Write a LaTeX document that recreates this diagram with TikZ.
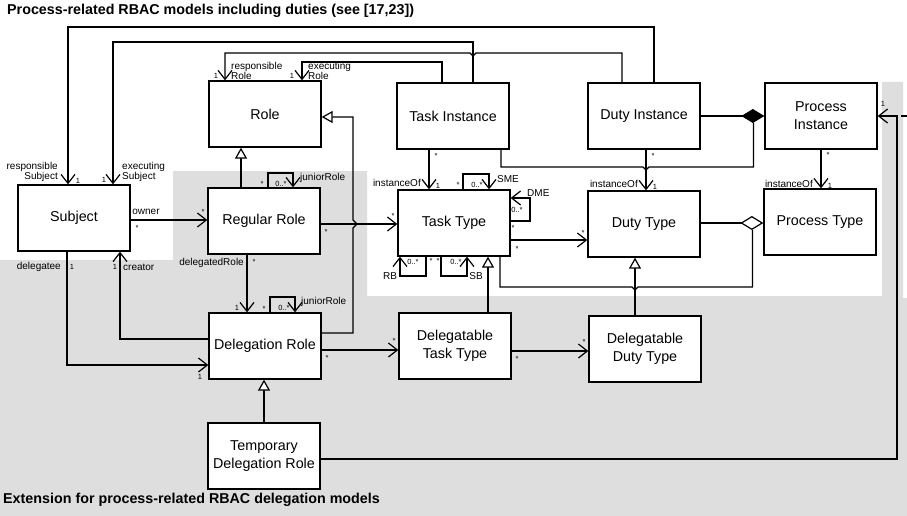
\documentclass[tikz,border=0pt]{standalone}
\usepackage{fontspec}
\setmainfont{Liberation Sans}
\usetikzlibrary{arrows.meta}
\definecolor{bggray}{RGB}{222,222,222}
\begin{document}
\begin{tikzpicture}[x=1pt,y=-1pt,
  box/.style={draw, fill=white, line width=1.3pt, minimum width=112pt, minimum height=66pt, inner sep=1pt, align=center, font=\fontsize{14.3}{18}\selectfont},
  conn/.style={line width=1.2pt},
  nav/.style={conn, -{Straight Barb[length=9pt,width=14pt]}},
  gen/.style={conn, -{Triangle[open,fill=white,length=11pt,width=12pt]}},
  comp/.style={conn, -{Diamond[fill=black,length=23pt,width=14pt]}},
  agg/.style={conn, -{Diamond[open,fill=white,length=23pt,width=14pt]}},
  lbl/.style={font=\fontsize{10}{10}\selectfont, inner sep=0pt},
  mult/.style={font=\fontsize{7.5}{7.5}\selectfont, inner sep=0pt},
  ttl/.style={font=\bfseries\fontsize{14.3}{16}\selectfont, anchor=west, inner sep=0pt},
]
\useasboundingbox (0,0) rectangle (907,516);
\fill[white] (0,0) rectangle (907,516);
\fill[bggray] (0,516) -- (0,260) -- (173,260) -- (173,171) -- (367,171) -- (367,296) -- (882,296) -- (882,82) -- (903,82) -- (903,298) -- (907,298) -- (907,516) -- cycle;

% titles
\node[ttl] (title1) at (7,11) {Process-related RBAC models including duties (see [17,23])};
\node[ttl] (title2) at (3,500) {Extension for process-related RBAC delegation models};

% boxes
\node[box] (role) at (265,114) {Role};
\node[box] (taskinst) at (453,116) {Task Instance};
\node[box] (dutyinst) at (644,116) {Duty Instance};
\node[box] (procinst) at (821,116) {Process\\Instance};
\node[box] (subject) at (74,218) {Subject};
\node[box] (regrole) at (264,221) {Regular Role};
\node[box] (tasktype) at (454,223) {Task Type};
\node[box] (dutytype) at (644,224) {Duty Type};
\node[box] (proctype) at (820,222) {Process Type};
\node[box] (delrole) at (265,346) {Delegation Role};
\node[box] (deltask) at (455,346) {Delegatable\\Task Type};
\node[box] (delduty) at (645,349) {Delegatable\\Duty Type};
\node[box] (temprole) at (264,456) {Temporary\\Delegation Role};

% top long connectors
\draw[nav] (654,0 |- dutyinst.north) -- (654,27) -- (68,27) -- (68,0 |- subject.north);
\draw[nav] (473,0 |- taskinst.north) -- (473,42) -- (113,42) -- (113,0 |- subject.north);
\draw[nav] (622,0 |- dutyinst.north) -- (622,53) -- (476,53) -- (473,56) -- (470,53) -- (225,53) -- (225,0 |- role.north);
\draw[nav] (442,0 |- taskinst.north) -- (442,62) -- (302,62) -- (302,0 |- role.north);

\node[mult] (m1) at (216,76) {1};
\node[lbl, align=left, anchor=south west] (t1) at (231,80) {responsible\\Role};
\node[mult] (m2) at (292,76) {1};
\node[lbl, align=left, anchor=south west] (t2) at (308,80) {executing\\Role};
\node[lbl, align=right, anchor=south east] (t3) at (58,182) {responsible\\Subject};
\node[mult] (m3) at (78,181) {1};
\node[mult] (m4) at (104,180) {1};
\node[lbl, align=left, anchor=south west] (t4) at (122,182) {executing\\Subject};

% composition / aggregation
\draw[comp] (dutyinst.east) -- (dutyinst.east -| procinst.west);
\draw[conn] (501,0 |- taskinst.south) -- (501,167) -- (643,167) -- (646,170) -- (649,167) -- (753.5,167) -- (753.5,123);
\draw[agg] (dutytype.east |- 0,223) -- (proctype.west |- 0,223);
\draw[conn] (500,0 |- tasktype.south) -- (500,287) -- (632,287) -- (635,290) -- (638,287) -- (752.5,287) -- (752.5,230);

% instanceOf
\draw[nav] (429,0 |- taskinst.south) -- (429,0 |- tasktype.north);
\node[mult] (m5) at (436,156) {*};
\node[lbl, anchor=east] (t5) at (421,183) {instanceOf};
\node[mult] (m6) at (438,186) {1};
\draw[nav] (646,0 |- dutyinst.south) -- (646,0 |- dutytype.north);
\node[mult] (m7) at (653,156) {*};
\node[lbl, anchor=east] (t6) at (638,184) {instanceOf};
\node[mult] (m8) at (655,187) {1};
\draw[nav] (821,0 |- procinst.south) -- (821,0 |- proctype.north);
\node[mult] (m9) at (828,155) {*};
\node[lbl, anchor=east] (t7) at (813,184) {instanceOf};
\node[mult] (m10) at (830,186) {1};

% subject relations
\draw[nav] (subject.east |- 0,220) -- (regrole.west |- 0,220);
\node[lbl] (t8) at (146,212) {owner};
\node[mult] (m11) at (137,228) {*};
\node[mult] (m12) at (203,212) {*};
\draw[nav] (67,0 |- subject.south) -- (67,365) -- (delrole.west |- 0,365);
\node[lbl, anchor=east] (t9) at (61,267) {delegatee};
\node[mult] (m13) at (72,267) {1};
\node[mult] (m14) at (200,377) {1};
\draw[nav] (delrole.west |- 0,339) -- (120,339) -- (120,0 |- subject.south);
\node[mult] (m15) at (115,267) {1};
\node[lbl, anchor=west] (t10) at (123,267) {creator};

% role hierarchy
\draw[gen] (241,0 |- regrole.north) -- (241,0 |- role.south);
\draw[gen] (264,0 |- temprole.north) -- (264,0 |- delrole.south);
\draw[gen] (delrole.east |- 0,333) -- (353,333) -- (353,228) -- (357,224) -- (353,220) -- (353,117) -- (role.east |- 0,117);
\draw[nav] (247,0 |- regrole.south) -- (247,0 |- delrole.north);
\node[lbl, anchor=east] (t11) at (244,263) {delegatedRole};
\node[mult] (m16) at (254,262) {*};
\node[mult] (m17) at (237,308) {1};

% juniorRole loops
\draw[nav] (268,0 |- regrole.north) -- (268,173) -- (293,173) -- (293,0 |- regrole.north);
\node[mult] (m18) at (262,184) {*};
\node[mult] (m19) at (281,184) {0..*};
\node[lbl, anchor=west] (t12) at (300,178) {juniorRole};
\draw[nav] (270,0 |- delrole.north) -- (270,297) -- (295,297) -- (295,0 |- delrole.north);
\node[mult] (m20) at (264,309) {*};
\node[mult] (m21) at (284,308) {0..*};
\node[lbl, anchor=west] (t13) at (301,302) {juniorRole};

% role -> task types
\draw[nav] (regrole.east |- 0,224) -- (tasktype.west |- 0,224);
\node[mult] (m22) at (326,232) {*};
\node[mult] (m23) at (393,216) {*};
\draw[nav] (delrole.east |- 0,350) -- (deltask.west |- 0,350);
\node[mult] (m24) at (327,358) {*};
\node[mult] (m25) at (394,341) {*};
\draw[nav] (deltask.east |- 0,351) -- (delduty.west |- 0,351);
\node[mult] (m26) at (517,359) {*};
\node[mult] (m27) at (584,342) {*};
\draw[nav] (tasktype.east |- 0,240) -- (dutytype.west |- 0,240);
\node[mult] (m28) at (517,249) {*};
\node[mult] (m29) at (583,233) {*};

% task type generalizations
\draw[gen] (488,0 |- deltask.north) -- (488,0 |- tasktype.south);
\draw[gen] (635,0 |- delduty.north) -- (635,0 |- dutytype.south);

% task type loops
\draw[nav] (463,0 |- tasktype.north) -- (463,174) -- (489,174) -- (489,0 |- tasktype.north);
\node[mult] (m30) at (458,185) {*};
\node[mult] (m31) at (477,185) {0..*};
\node[lbl, anchor=west] (t14) at (497,179) {SME};
\draw[nav] (tasktype.east |- 0,221) -- (530,221) -- (530,198) -- (tasktype.east |- 0,198);
\node[mult] (m32) at (517,210) {0..*};
\node[mult] (m33) at (513,228) {*};
\node[lbl, anchor=west] (t15) at (527,193) {DME};
\draw[nav] (426,0 |- tasktype.south) -- (426,276) -- (400,276) -- (400,0 |- tasktype.south);
\node[mult] (m34) at (413,262) {0..*};
\node[lbl] (t16) at (390,276) {RB};
\node[mult] (m35) at (431,261) {*};
\node[mult] (m36) at (438,261) {*};
\draw[nav] (441,0 |- tasktype.south) -- (441,276) -- (467,276) -- (467,0 |- tasktype.south);
\node[mult] (m37) at (456,262) {0..*};
\node[lbl] (t17) at (476,276) {SB};

% temporary delegation role -> process instance
\draw[nav] (temprole.east |- 0,459) -- (897,459) -- (897,116) -- (procinst.east |- 0,116);
\node[mult] (m38) at (883,104) {1};
\coordinate (edge) at (907,116);
\draw[conn] (901,116) -- (edge);
\end{tikzpicture}
\end{document}
